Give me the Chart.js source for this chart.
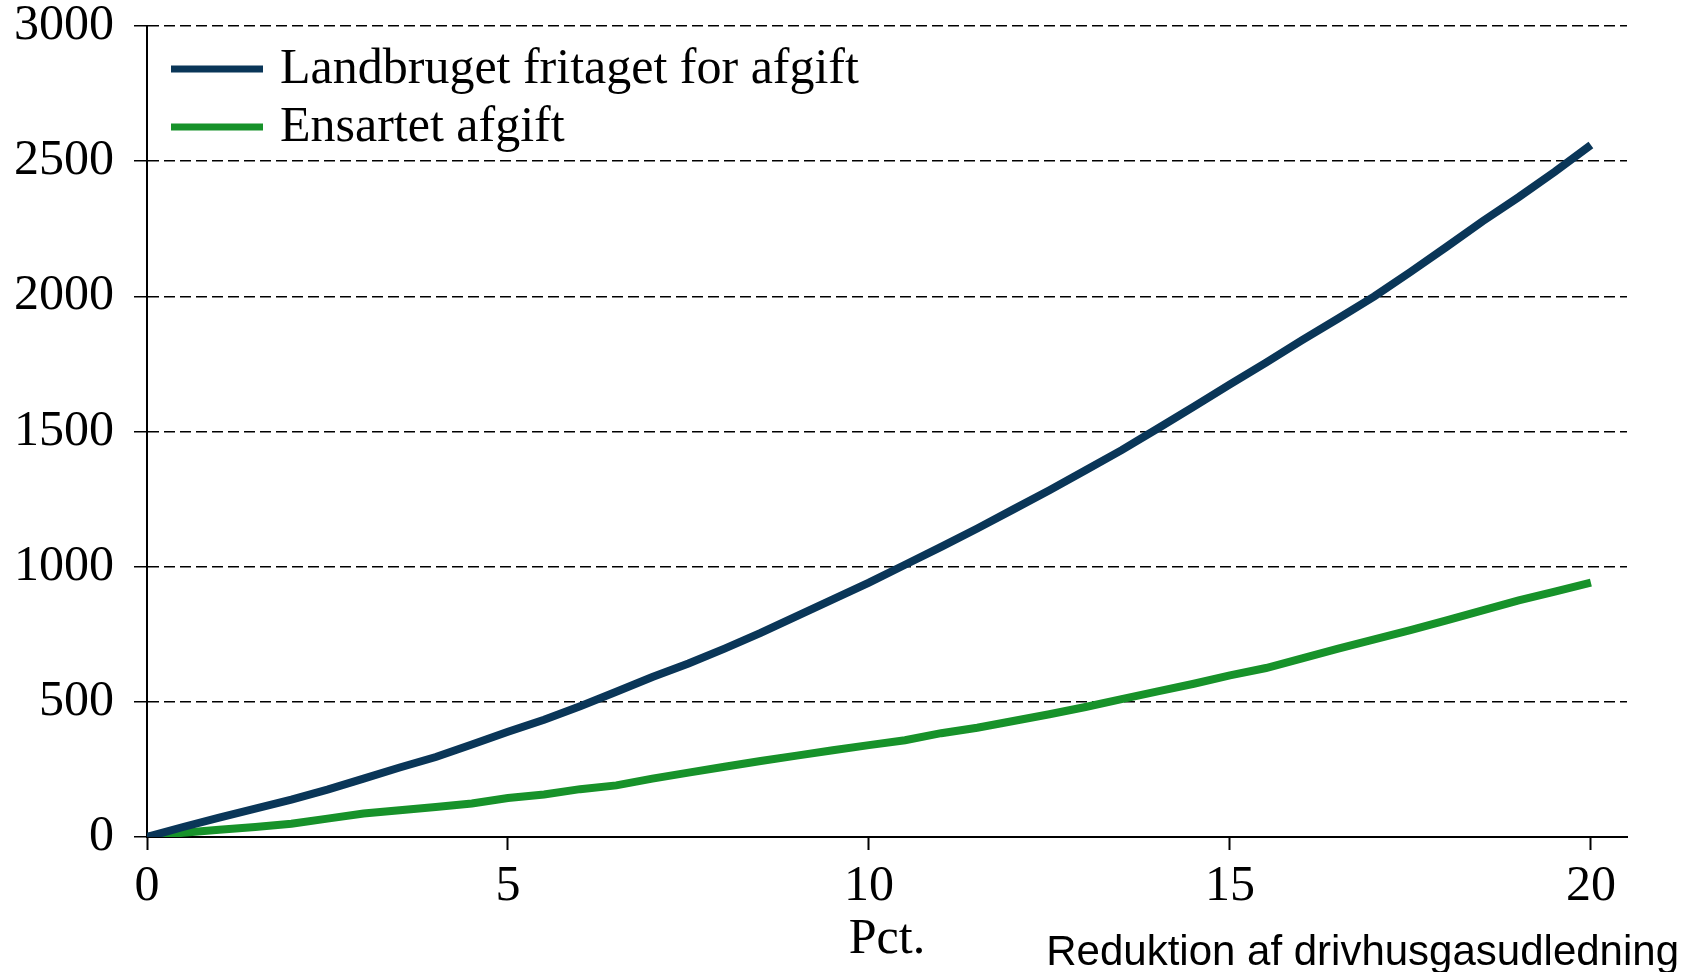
<!DOCTYPE html>
<html>
<head>
<meta charset="utf-8">
<script src="https://cdn.jsdelivr.net/npm/chart.js@4.4.0/dist/chart.umd.min.js"></script>
<style>
  html, body { margin: 0; padding: 0; background: #fff; overflow: hidden; }
  canvas { display: block; }
</style>
</head>
<body>
<canvas id="costChart" width="1700" height="972"></canvas>
<script>
// Reduktion af drivhusgasudledning, pct.
const reduction = [0, 0.5, 1, 1.5, 2, 2.5, 3, 3.5, 4, 4.5, 5, 5.5, 6, 6.5, 7, 7.5, 8, 8.5, 9, 9.5,
  10, 10.5, 11, 11.5, 12, 12.5, 13, 13.5, 14, 14.5, 15, 15.5, 16, 16.5, 17, 17.5, 18, 18.5, 19, 19.5, 20];

const landbrugFritaget = [0, 37, 72, 105, 138, 175, 216, 257, 296, 342, 389, 434, 484, 537, 592, 642, 697, 755, 817, 879,
  941, 1007, 1073, 1141, 1212, 1283, 1357, 1431, 1511, 1592, 1674, 1755, 1838, 1918, 2000, 2090, 2183, 2278, 2367, 2461, 2560];

const ensartetAfgift = [0, 16, 27, 37, 49, 68, 87, 99, 111, 124, 144, 157, 177, 191, 216, 238, 260, 281, 301, 321,
  340, 358, 384, 404, 429, 454, 481, 510, 539, 567, 598, 625, 661, 697, 731, 765, 801, 838, 875, 908, 941];

const seriesNames = ['Landbruget fritaget for afgift', 'Ensartet afgift'];
const yTicks = [0, 500, 1000, 1500, 2000, 2500, 3000];
const xTicks = [0, 5, 10, 15, 20];
const xTitle = 'Pct.';
const xNote = 'Reduktion af drivhusgasudledning';

const serif = "'Liberation Serif', 'Times New Roman', serif";
const sans = "'Liberation Sans', Arial, sans-serif";

function toPoints(ys) {
  return reduction.map((x, i) => ({ x: x, y: ys[i] }));
}

// legend inside the plot plus the note under the x axis
const extrasPlugin = {
  id: 'extras',
  afterDraw(chart) {
    const ctx = chart.ctx;
    ctx.save();
    chart.data.datasets.forEach((ds, i) => {
      const y = 69 + i * 58;
      ctx.strokeStyle = ds.borderColor;
      ctx.lineWidth = 7;
      ctx.beginPath();
      ctx.moveTo(171, y);
      ctx.lineTo(263, y);
      ctx.stroke();
      ctx.fillStyle = '#000';
      ctx.font = '50px ' + serif;
      ctx.textAlign = 'left';
      ctx.textBaseline = 'alphabetic';
      ctx.fillText(ds.label, 280, y + 14);
    });
    ctx.font = '42px ' + sans;
    ctx.textAlign = 'right';
    ctx.fillText(xNote, 1679, 965);
    ctx.restore();
  }
};

new Chart(document.getElementById('costChart'), {
  type: 'line',
  data: {
    datasets: [
      {
        label: seriesNames[0],
        data: toPoints(landbrugFritaget),
        borderColor: '#0a3658',
        borderWidth: 8,
        pointRadius: 0,
        tension: 0,
        fill: false
      },
      {
        label: seriesNames[1],
        data: toPoints(ensartetAfgift),
        borderColor: '#17922a',
        borderWidth: 8,
        pointRadius: 0,
        tension: 0,
        fill: false
      }
    ]
  },
  options: {
    responsive: false,
    animation: false,
    layout: { padding: { top: 26, right: 73, left: 0, bottom: 0 } },
    plugins: {
      legend: { display: false },
      tooltip: { enabled: false }
    },
    scales: {
      x: {
        type: 'linear',
        min: 0,
        max: 20.5,
        afterFit(scale) { scale.height = 135; },
        afterBuildTicks(scale) { scale.ticks = xTicks.map(v => ({ value: v })); },
        ticks: {
          color: '#000',
          font: { family: serif, size: 50 },
          padding: 7,
          maxRotation: 0,
          callback: v => String(v)
        },
        grid: {
          drawOnChartArea: false,
          drawTicks: true,
          tickLength: 13,
          tickColor: '#000',
          tickWidth: 2
        },
        border: { display: true, color: '#000', width: 2 },
        title: {
          display: true,
          text: xTitle,
          color: '#000',
          font: { family: serif, size: 50 },
          padding: { top: 0, bottom: 2 }
        }
      },
      y: {
        min: 0,
        max: 3000,
        afterFit(scale) {
          scale.width = 147;
          scale.paddingTop = 0;
          scale.paddingBottom = 0;
        },
        afterBuildTicks(scale) { scale.ticks = yTicks.map(v => ({ value: v })); },
        ticks: {
          color: '#000',
          font: { family: serif, size: 50 },
          padding: 20,
          callback: v => String(v)
        },
        grid: {
          color: '#000',
          lineWidth: 1.5,
          drawTicks: true,
          tickLength: 13,
          tickColor: '#000',
          tickWidth: 1.5,
          tickBorderDash: []
        },
        border: { display: true, color: '#000', width: 2, dash: [11, 5] }
      }
    }
  },
  plugins: [extrasPlugin]
});
</script>
</body>
</html>
